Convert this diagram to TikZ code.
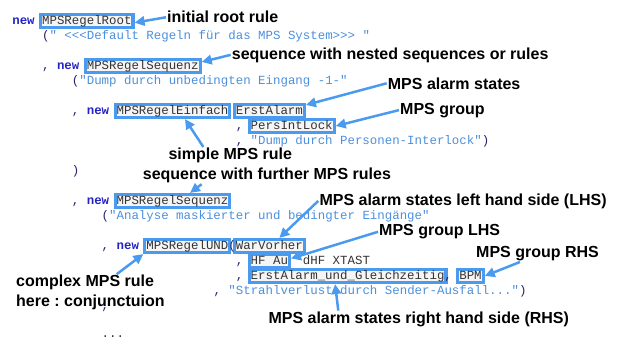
\documentclass[tikz,border=0pt]{standalone}
\usepackage{fontspec}
\setmonofont{Liberation Mono}
\setsansfont{Liberation Sans}
\usepackage{tikz}
\usetikzlibrary{arrows.meta}
\definecolor{mpsblue}{HTML}{4A9BF0}
\definecolor{kwblue}{HTML}{2424C4}
\definecolor{strblue}{HTML}{4C8FDC}
\definecolor{punctnavy}{HTML}{24246E}
\definecolor{idgray}{HTML}{333333}
\newcommand{\kwd}[1]{\textcolor{kwblue}{\bfseries #1}}
\newcommand{\cstr}[1]{\textcolor{strblue}{#1}}
\newcommand{\punc}[1]{\textcolor{punctnavy}{#1}}
\tikzstyle{code}=[font=\ttfamily\fontsize{12.42}{15}\selectfont,text=idgray,inner sep=0pt,anchor=text]
\tikzstyle{tok}=[code,draw=mpsblue,line width=3.1pt,fill=black!4,inner xsep=1.5pt,inner ysep=1pt,text height=8.5pt,text depth=2.5pt]
\tikzstyle{note}=[font=\sffamily\bfseries\frenchspacing\fontsize{16}{19.7}\selectfont,inner sep=1pt,anchor=base west]

\begin{document}
\begin{tikzpicture}[x=1pt,y=-1pt]
      \tikzset{callout/.style = {draw=mpsblue,line width=2.5pt,-{Triangle[length=10pt,width=9.5pt]}}}
      \useasboundingbox (0,0) rectangle (619,340);
      % code lines, one column = 7.45pt
      \node[code] (c0) at (12.3,24) {\kwd{new}};
      \node[tok] (root) at (42.1,24) {MPSRegelRoot};
      \node[code] (c1) at (42.1,39) {\punc{(}\cstr{" <<<Default Regeln für das MPS System>>> "}};
      \node[code] (c3) at (42.1,69) {\punc{,} \kwd{new}};
      \node[tok] (seqa) at (86.8,69) {MPSRegelSequenz};
      \node[code] (c4) at (71.9,84) {\punc{(}\cstr{"Dump durch unbedingten Eingang -1-"}};
      \node[code] (c6) at (71.9,114) {\punc{,} \kwd{new}};
      \node[tok] (einfach) at (116.6,114) {MPSRegelEinfach};
      \node[tok] (erst) at (235.8,114) {ErstAlarm};
      \node[code] (c7) at (235.8,129) {\punc{,}};
      \node[tok] (pers) at (250.7,129) {PersIntLock};
      \node[code] (c8) at (235.8,144) {\punc{,} \cstr{"Dump durch Personen-Interlock"}\punc{)}};
      \node[code] (c10) at (71.9,174) {\punc{)}};
      \node[code] (c12) at (71.9,204) {\punc{,} \kwd{new}};
      \node[tok] (seqb) at (116.6,204) {MPSRegelSequenz};
      \node[code] (c13) at (101.7,219) {\punc{(}\cstr{"Analyse maskierter und bedingter Eingänge"}};
      \node[code] (c15) at (101.7,249) {\punc{,} \kwd{new}};
      \node[tok] (und) at (146.4,249) {MPSRegelUND};
      \node[tok] (wvorher) at (235.8,249) {WarVorher};
      \node[code] (paren) at (228.4,249) {\punc{(}};
      \node[code] (c16) at (235.8,264) {\punc{,}};
      \node[tok] (hfau) at (250.7,264) {HF Au};
      \node[code] (c16b) at (302.9,264) {dHF XTAST};
      \node[code] (c17) at (235.8,279) {\punc{,}};
      \node[tok] (ersteq) at (250.7,279) {ErstAlarm\_und\_Gleichzeitig};
      \node[code] (c17b) at (444.4,279) {\punc{,}};
      \node[tok] (bpm) at (459.3,279) {BPM};
      \node[code] (c18) at (213.5,294) {\punc{,} \cstr{"Strahlverlust durch Sender-Ausfall..."}\punc{)}};
      \node[code] (c19) at (101.7,309) {\punc{,}};
      \node[code] (c21) at (101.7,337.5) {...};
      % annotations
      \node[note] (lroot) at (166,23) {initial root rule};
      \node[note] (lseqa) at (230.7,59) {sequence with nested sequences or rules};
      \node[note] (lstates) at (386.7,89) {MPS alarm states};
      \node[note] (lgroup) at (399,114) {MPS group};
      \node[note] (lsimple) at (167.3,159.7) {simple MPS rule};
      \node[note] (lseqb) at (141.7,179.7) {sequence with further MPS rules};
      \node[note] (llhs) at (318.3,205) {MPS alarm states left hand side (LHS)};
      \node[note] (lgrplhs) at (378,235.7) {MPS group LHS};
      \node[note] (lgrprhs) at (475,257.4) {MPS group RHS};
      \node[note,anchor=north west,align=left] (lcomplex) at (15,274.2) {complex MPS rule\\here : conjunctuion};
      \node[note] (lrhs) at (267.3,323.4) {MPS alarm states right hand side (RHS)};
      \draw[callout] (lroot.west) -- ([yshift=-1.7pt]root.east);
      \draw[callout] (lseqa.west) -- ([yshift=4pt]seqa.east);
      \draw[callout] (lstates.west) -- ([yshift=-2pt]erst.north east);
      \draw[callout] (lgroup.west) -- (pers.east);
      \draw[callout] ([xshift=36pt]lsimple.north west) -- ([xshift=12.5pt]einfach.south);
      \draw[callout] ([xshift=60pt]lseqb.south west) -- ([xshift=17.5pt]seqb.north);
      \draw[callout] (llhs.west) -- ([xshift=10pt]wvorher.north);
      \draw[callout] (lgrplhs.west) -- ([yshift=2.5pt]hfau.east);
      \draw[callout] ([xshift=45pt]lgrprhs.south west) -- (bpm.east);
      \draw[callout] ([xshift=71pt]lrhs.north west) -- ([xshift=-12.5pt]ersteq.south);
      \draw[callout] ([xshift=101.7pt]lcomplex.north west) -- (und.south west);
\end{tikzpicture}
\end{document}
